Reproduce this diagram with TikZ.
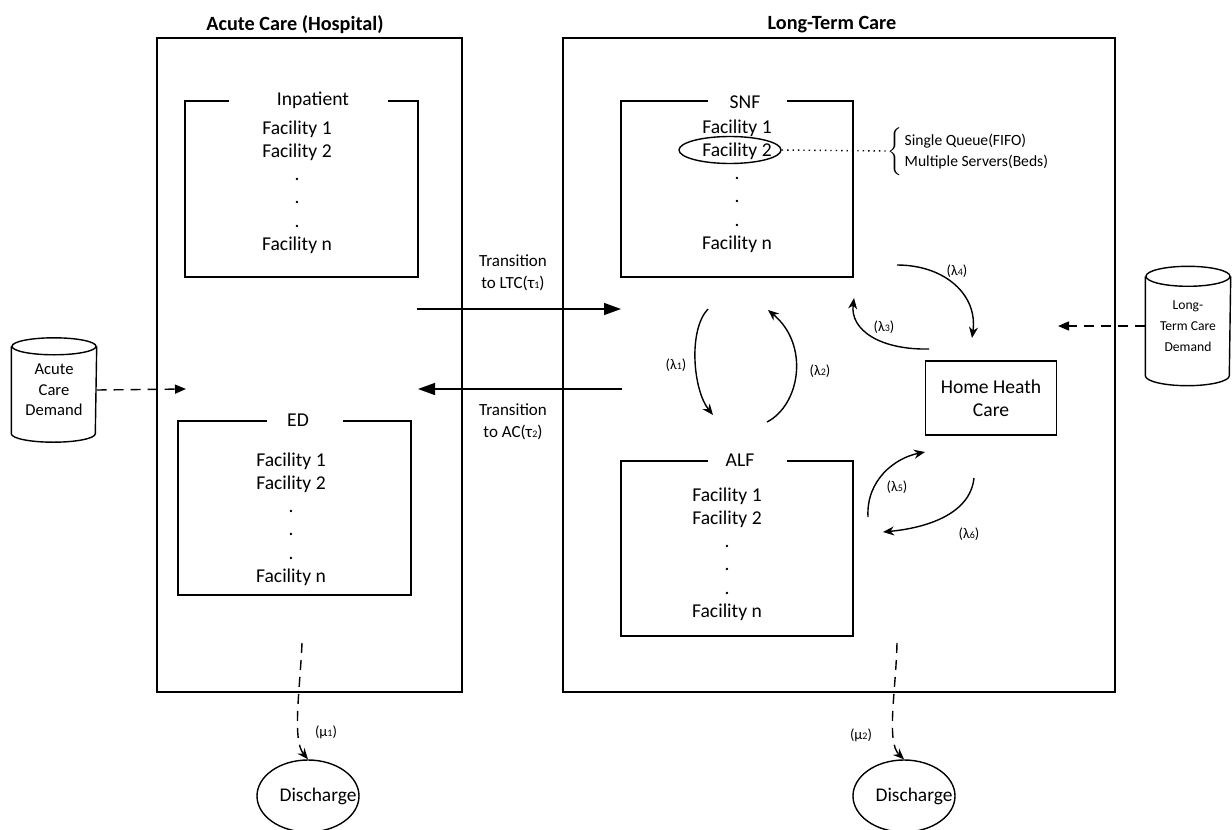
\documentclass[tikz,border=0pt]{standalone}
\usepackage{fontspec}
\setmainfont{Carlito}
\usetikzlibrary{arrows.meta, shapes.geometric}
\newcommand{\lsub}[1]{{\fontsize{5}{5}\selectfont #1}}

\begin{document}
\begin{tikzpicture}[x=0.5pt, y=-0.5pt, line width=0.7pt,
	fac/.style={font=\fontsize{9.8}{11.6}\selectfont, align=center},
	ttl/.style={font=\fontsize{10.1}{12}\selectfont\bfseries, anchor=base},
	lbl/.style={font=\fontsize{7.3}{9}\selectfont},
	trn/.style={font=\fontsize{8.5}{11}\selectfont, align=center},
	flow/.style={-{Stealth[length=5.5pt, width=4.5pt]}},
	dashflow/.style={flow, dash pattern=on 5pt off 3.5pt},
	dashin/.style={-{Triangle[length=5.5pt, width=4.5pt]}, dash pattern=on 5pt off 3.5pt},
	move/.style={-{Triangle[length=8.5pt, width=6pt]}},
	store/.style={align=center, minimum width=42pt, inner sep=0pt},
	outlet/.style={ellipse, draw, minimum width=51pt, minimum height=36pt, inner sep=0pt, font=\fontsize{9.7}{11}\selectfont}]

	\useasboundingbox (0,0) rectangle (1232,830);

	% the two settings
	\draw (157,38) rectangle (462,692);
	\draw (563,38) rectangle (1115,692);
	\node[ttl] (actitle) at (295,30) {Acute Care (Hospital)};
	\node[ttl] (lttitle) at (832,29) {Long-Term Care};

	% units, open at the top for their names
	\draw (229,101) -| (185,277) -| (418,101) -- (388,101);
	\draw (267,421) -| (178,595) -| (411,421) -- (343,421);
	\draw (708,101) -| (621,277) -| (853,101) -- (787,101);
	\draw (708,461) -| (621,636) -| (853,461) -- (787,461);

	\node[fac] (inp) at (313,100) {Inpatient};
	\node[fac] (ed) at (298,420) {ED};
	\node[fac] (snf) at (745,102) {SNF};
	\node[fac] (alf) at (740,460) {ALF};

	\node[fac] (inplist) at (297,187) {Facility 1\\Facility 2\\.\\.\\.\\Facility n};
	\node[fac] (edlist) at (291,519) {Facility 1\\Facility 2\\.\\.\\.\\Facility n};
	\node[fac] (snflist) at (737,186) {Facility 1\\Facility 2\\.\\.\\.\\Facility n};
	\node[fac] (alflist) at (727,554) {Facility 1\\Facility 2\\.\\.\\.\\Facility n};

	\node[ellipse, draw, minimum width=51pt, minimum height=13.5pt, inner sep=0pt] (fac2) at (730,150) {};
	\node[anchor=west, font=\fontsize{7.8}{10.8}\selectfont, inner sep=0pt] (queue) at (887,151)
		{$\bigg\{$\hspace{1pt}\begin{tabular}{@{}l@{}}Single Queue(FIFO)\\Multiple Servers(Beds)\end{tabular}};
	\draw[dotted] (fac2.east) -- (queue.west);

	\node[fac, draw, minimum width=65.5pt, minimum height=37pt] (home) at (991,398) {Home Heath\\Care};

	% demand
	\node[store, minimum height=43pt, font=\fontsize{8.3}{10.3}\selectfont] (acdem) at (54,390) {Acute\\Care\\Demand};
	\draw (acdem.north west) -- (acdem.south west) arc[start angle=180, end angle=360, x radius=21pt, y radius=4.25pt] -- (acdem.north east);
	\draw (acdem.north) ellipse[x radius=21pt, y radius=4.25pt];
	\node[store, minimum height=49pt, font=\fontsize{6.8}{10.5}\selectfont] (ltcdem) at (1188,326) {Long-\\Term Care\\Demand};
	\draw (ltcdem.north west) -- (ltcdem.south west) arc[start angle=180, end angle=360, x radius=21pt, y radius=5pt] -- (ltcdem.north east);
	\draw (ltcdem.north) ellipse[x radius=21pt, y radius=5pt];
	\coordinate (acin) at (186,389);
	\coordinate (ltcin) at (1058,326);
	\draw[dashin] (acdem.east) -- (acin);
	\draw[dashin] (ltcdem.west) -- (ltcin);

	% transitions between the settings
	\coordinate (t1a) at (417,309);
	\coordinate (t1b) at (621,309);
	\coordinate (t2a) at (622,389);
	\coordinate (t2b) at (418,389);
	\draw[move] (t1a) -- (t1b);
	\draw[move] (t2a) -- (t2b);
	\node[trn] (tau1) at (513,273) {Transition\\to LTC(τ\lsub{1})};
	\node[trn] (tau2) at (513,422) {Transition\\to AC(τ\lsub{2})};

	% flows inside long-term care
	\coordinate (l1a) at (708,309);
	\coordinate (l1b) at (713,415);
	\coordinate (l2a) at (767,422);
	\coordinate (l2b) at (768,310);
	\coordinate (l3a) at (929,349);
	\coordinate (l3b) at (854,298);
	\coordinate (l4a) at (897,265);
	\coordinate (l4b) at (972,338);
	\coordinate (l5a) at (868,517);
	\coordinate (l5b) at (925,452);
	\coordinate (l6a) at (974,478);
	\coordinate (l6b) at (883,532);
	\draw[flow] (l1a) .. controls (688,330) and (693,390) .. (l1b);
	\draw[flow] (l2a) .. controls (800,405) and (810,345) .. (l2b);
	\draw[flow] (l3a) .. controls (880,350) and (850,330) .. (l3b);
	\draw[flow] (l4a) .. controls (945,265) and (978,295) .. (l4b);
	\draw[flow] (l5a) .. controls (866,480) and (895,458) .. (l5b);
	\draw[flow] (l6a) .. controls (970,515) and (925,528) .. (l6b);
	\node[lbl] (lam1) at (676,365) {(λ\lsub{1})};
	\node[lbl] (lam2) at (820,371) {(λ\lsub{2})};
	\node[lbl] (lam3) at (884,327) {(λ\lsub{3})};
	\node[lbl] (lam4) at (957,271) {(λ\lsub{4})};
	\node[lbl] (lam5) at (897,487) {(λ\lsub{5})};
	\node[lbl] (lam6) at (969,534) {(λ\lsub{6})};

	% discharge
	\node[outlet] (dis1) at (308,796) {\makebox[0pt]{\hspace{10pt}Discharge}};
	\node[outlet] (dis2) at (904,796) {\makebox[0pt]{\hspace{10pt}Discharge}};
	\coordinate (mu1a) at (302,643);
	\coordinate (mu2a) at (897,643);
	\draw[dashflow] (mu1a) .. controls (300,690) and (292,740) .. (dis1.north);
	\draw[dashflow] (mu2a) .. controls (896,690) and (886,742) .. (dis2.north);
	\node[lbl] (mu1) at (326,732) {(μ\lsub{1})};
	\node[lbl] (mu2) at (861,735) {(μ\lsub{2})};
\end{tikzpicture}
\end{document}
